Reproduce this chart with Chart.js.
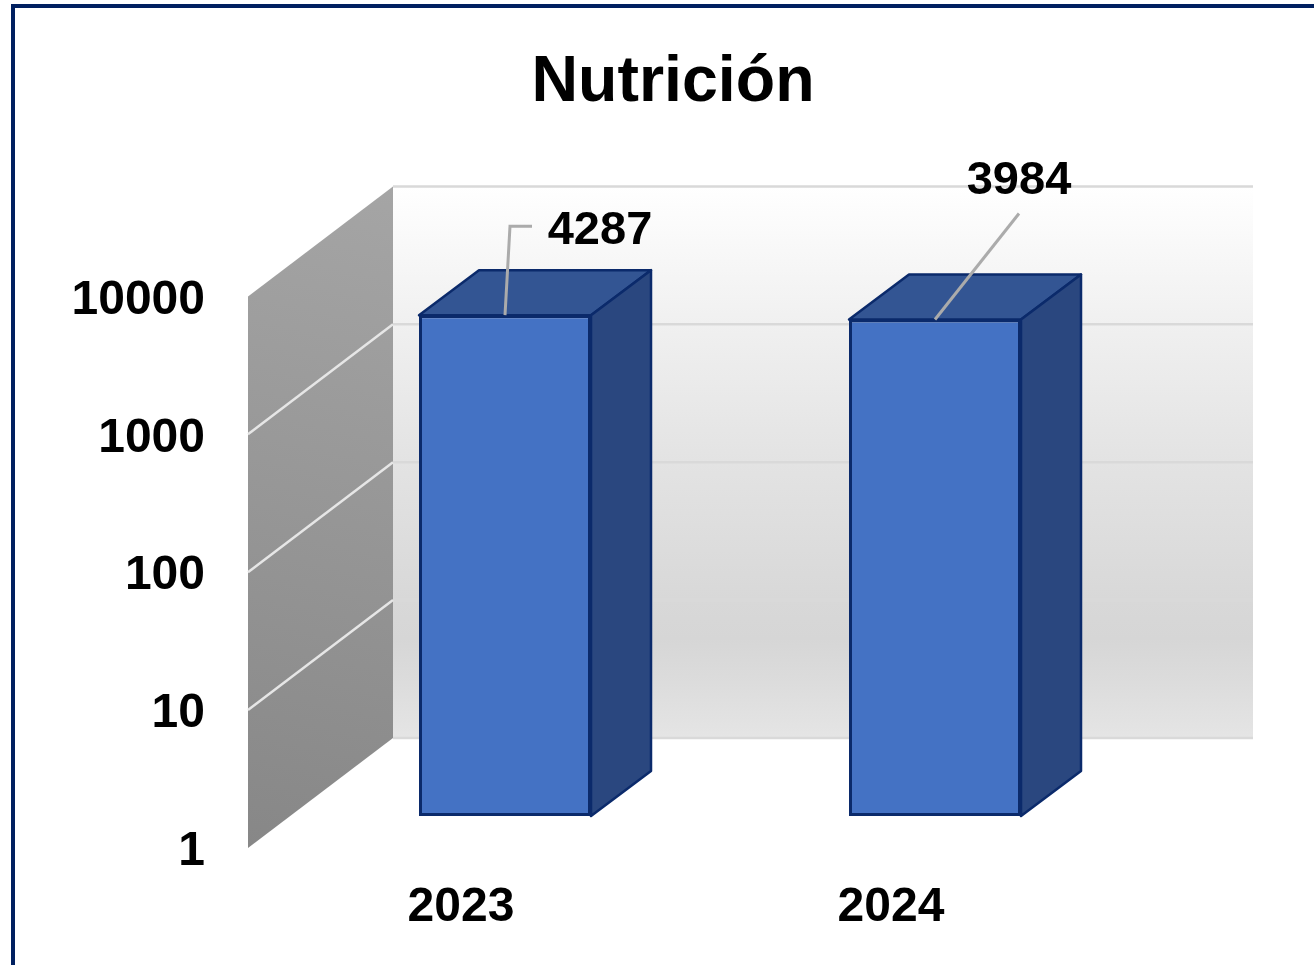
<!DOCTYPE html>
<html lang="es">
<head>
<meta charset="utf-8">
<title>Nutrición</title>
<script src="https://cdn.jsdelivr.net/npm/chart.js@4"></script>
<style>
  body { margin: 0; background: #fff; overflow: hidden; }
  canvas { position: absolute; left: 0; top: 0; }
  #frame {
    position: absolute; left: 11px; top: 4px; right: 0; bottom: 0;
    border-left: 4px solid #002060; border-top: 4px solid #002060;
  }
</style>
</head>
<body>
<canvas id="chart" width="1314" height="965"></canvas>
<div id="frame"></div>
<script>
// ==================================================
// DATA
// ==================================================
const years = ["2023", "2024"];
const values = [4287, 3984];
const yTicks = [1, 10, 100, 1000, 10000];
const chartTitle = "Nutrición";

// ==================================================
// 3D LOOK (depth of the walls and of the bars)
// ==================================================
const wallDepth = { x: 145, y: -110 };
const barShift = { x: 42, y: -32 };
const barDepth = { x: 60, y: -45 };
// leader line and text of each value label, relative to the bar top centre
const leaders = [
  { line: [[0, 0], [5, -89], [27, -89]], text: [95, -84] },
  { line: [[0, 0], [84, -106]], text: [84, -138] },
];
const fontFamily = '"Liberation Sans", Arial, sans-serif';

function fillPoly(ctx, pts, fill, stroke) {
  ctx.beginPath();
  pts.forEach((p, i) => (i ? ctx.lineTo(p[0], p[1]) : ctx.moveTo(p[0], p[1])));
  ctx.closePath();
  ctx.fillStyle = fill;
  ctx.fill();
  ctx.strokeStyle = stroke;
  ctx.lineWidth = 2.5;
  ctx.lineJoin = "round";
  ctx.stroke();
}

const wallsPlugin = {
  id: "walls",
  afterLayout(chart) {
    // the tick labels are clipped to the scale box, so let it reach the left edge
    chart.scales.y.left = 0;
  },
  beforeDatasetsDraw(chart) {
    const { ctx, chartArea } = chart;
    const y = chart.scales.y;
    const left = chartArea.left;
    const right = chartArea.right;
    const top = y.getPixelForValue(10000);
    const bottom = y.getPixelForValue(1);

    // back wall
    const backGrad = ctx.createLinearGradient(0, top + wallDepth.y, 0, bottom + wallDepth.y);
    backGrad.addColorStop(0, "#ffffff");
    backGrad.addColorStop(0.25, "#f0f0f0");
    backGrad.addColorStop(0.5, "#e3e3e3");
    backGrad.addColorStop(0.75, "#d8d8d8");
    backGrad.addColorStop(0.82, "#d6d6d6");
    backGrad.addColorStop(0.9, "#dcdcdc");
    backGrad.addColorStop(1, "#e5e5e5");
    ctx.fillStyle = backGrad;
    ctx.fillRect(left + wallDepth.x, top + wallDepth.y, right - left, bottom - top);

    // side wall
    const sideGrad = ctx.createLinearGradient(left + wallDepth.x, top + wallDepth.y, left, bottom);
    sideGrad.addColorStop(0, "#a5a5a5");
    sideGrad.addColorStop(1, "#878787");
    ctx.beginPath();
    ctx.moveTo(left, top);
    ctx.lineTo(left + wallDepth.x, top + wallDepth.y);
    ctx.lineTo(left + wallDepth.x, bottom + wallDepth.y);
    ctx.lineTo(left, bottom);
    ctx.closePath();
    ctx.fillStyle = sideGrad;
    ctx.fill();

    // grid lines follow the log scale
    yTicks.forEach((tick) => {
      const py = y.getPixelForValue(tick);
      ctx.strokeStyle = "#d9d9d9";
      ctx.lineWidth = 2.5;
      ctx.beginPath();
      ctx.moveTo(left + wallDepth.x, py + wallDepth.y);
      ctx.lineTo(right + wallDepth.x, py + wallDepth.y);
      ctx.stroke();
      if (tick !== 1 && tick !== 10000) {
        ctx.strokeStyle = "#e6e6e6";
        ctx.lineWidth = 2.5;
        ctx.beginPath();
        ctx.moveTo(left, py);
        ctx.lineTo(left + wallDepth.x, py + wallDepth.y);
        ctx.stroke();
      }
    });

    // the bars stand inside the box, so shift the whole layer
    ctx.save();
    ctx.translate(barShift.x, barShift.y);
    chart.getDatasetMeta(0).data.forEach((bar) => {
      const l = bar.x - bar.width / 2;
      const r = bar.x + bar.width / 2;
      fillPoly(ctx, [[l, bar.y], [l + barDepth.x, bar.y + barDepth.y], [r + barDepth.x, bar.y + barDepth.y], [r, bar.y]], "#335593", "#0b2a6b");
      fillPoly(ctx, [[r, bar.y], [r + barDepth.x, bar.y + barDepth.y], [r + barDepth.x, bar.base + barDepth.y], [r, bar.base]], "#2a477f", "#0b2a6b");
    });
  },
  afterDatasetsDraw(chart) {
    const { ctx } = chart;
    ctx.restore();

    // value labels with leader lines
    chart.getDatasetMeta(0).data.forEach((bar, i) => {
      const cx = bar.x + barShift.x;
      const cy = bar.y + barShift.y;
      const leader = leaders[i];
      ctx.strokeStyle = "#ababab";
      ctx.lineWidth = 3;
      ctx.lineJoin = "miter";
      ctx.beginPath();
      leader.line.forEach((p, j) => {
        if (j) ctx.lineTo(cx + p[0], cy + p[1]);
        else ctx.moveTo(cx + p[0], cy + p[1]);
      });
      ctx.stroke();
      ctx.fillStyle = "#000";
      ctx.font = `bold 47px ${fontFamily}`;
      ctx.textAlign = "center";
      ctx.textBaseline = "middle";
      ctx.fillText(String(values[i]), cx + leader.text[0], cy + leader.text[1]);
    });
  },
};

// ==================================================
// CHART
// ==================================================
new Chart(document.getElementById("chart"), {
  type: "bar",
  data: {
    labels: years,
    datasets: [
      {
        data: values,
        backgroundColor: "#4472c4",
        borderColor: "#0b2a6b",
        borderWidth: 3,
        borderSkipped: false,
        barPercentage: 0.4,
        categoryPercentage: 1,
      },
    ],
  },
  options: {
    responsive: false,
    animation: false,
    layout: { padding: { left: 238, right: 206, top: 0, bottom: 0 } },
    plugins: {
      legend: { display: false },
      tooltip: { enabled: false },
      title: {
        display: true,
        text: chartTitle,
        color: "#000",
        font: { family: fontFamily, size: 64.5, weight: "bold" },
        padding: { top: 45, bottom: 174 },
      },
    },
    scales: {
      x: {
        grid: { display: false },
        border: { display: false },
        afterFit: (scale) => { scale.height = 117; },
        ticks: {
          color: "#000",
          font: { family: fontFamily, size: 48, weight: "bold" },
          padding: 23,
          labelOffset: -2,
          maxRotation: 0,
        },
      },
      y: {
        type: "logarithmic",
        min: 1,
        max: 10000,
        grid: { display: false, drawTicks: false },
        border: { display: false },
        afterBuildTicks: (scale) => { scale.ticks = yTicks.map((v) => ({ value: v })); },
        afterFit: (scale) => { scale.width = 10; },
        ticks: {
          color: "#000",
          font: { family: fontFamily, size: 48, weight: "bold" },
          padding: 43,
          labelOffset: 4,
          autoSkip: false,
          callback: (value) => String(value),
        },
      },
    },
  },
  plugins: [wallsPlugin],
});
</script>
</body>
</html>
